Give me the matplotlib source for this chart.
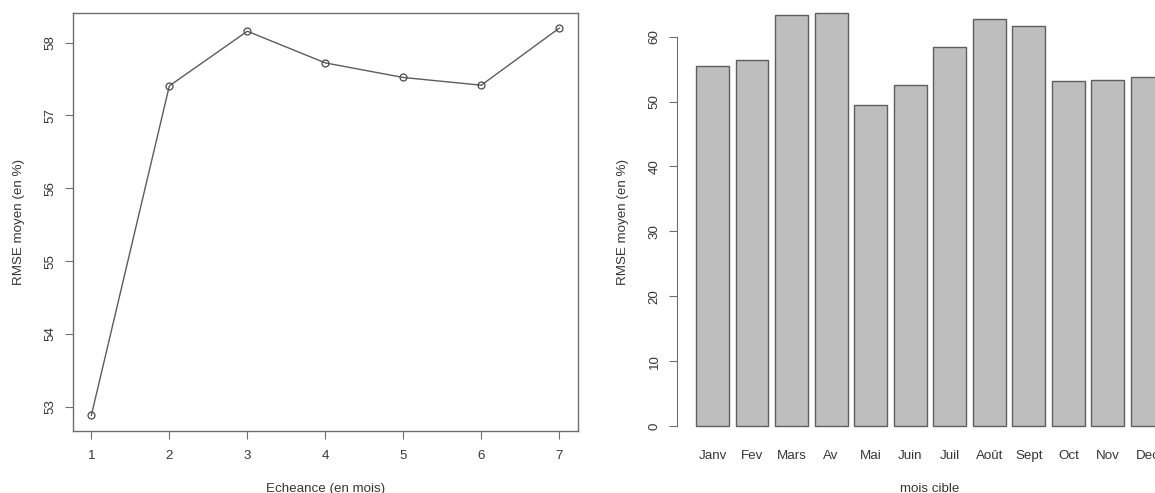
import matplotlib.pyplot as plt
import numpy as np

plt.rcParams['font.family'] = ['Liberation Sans', 'DejaVu Sans']
plt.rcParams['font.size'] = 9.6

# RMSE moyen par échéance
echeances = [1, 2, 3, 4, 5, 6, 7]
rmse_echeance = [52.885, 57.405, 58.155, 57.72, 57.52, 57.414, 58.197]

# RMSE moyen par mois cible
mois = ["Janv", "Fev", "Mars", "Av", "Mai", "Juin", "Juil", "Août", "Sept", "Oct", "Nov", "Dec"]
rmse_mois = [55.52, 56.35, 63.28, 63.69, 49.41, 52.54, 58.45, 62.66, 61.68, 53.16, 53.31, 53.78]

txt_col = "#363636"
ax_col = "#6e6e6e"

fig = plt.figure(figsize=(11.55, 4.93), dpi=100)

# --- courbe RMSE / échéance ---
ax1 = fig.add_axes([0.0629, 0.1264, 0.4375, 0.8479])
ax1.plot(echeances, rmse_echeance, color="#5c5c5c", linewidth=1.0,
         marker="o", markersize=5, markerfacecolor="none",
         markeredgecolor="#4a4a4a", markeredgewidth=0.9)

def r_lim(vals):
    lo, hi = min(vals), max(vals)
    pad = 0.04 * (hi - lo)
    return lo - pad, hi + pad

ax1.set_xlim(*r_lim(echeances))
ax1.set_ylim(*r_lim(rmse_echeance))
ax1.set_xticks(echeances)
ax1.set_yticks([53, 54, 55, 56, 57, 58])
for sp in ax1.spines.values():
    sp.set_color(ax_col)
    sp.set_linewidth(1.0)
ax1.tick_params(axis="x", length=5.5, pad=8.5, colors=ax_col, labelcolor=txt_col)
ax1.tick_params(axis="y", length=5.5, pad=6.5, colors=ax_col, labelcolor=txt_col,
                labelrotation=90)
for lab in ax1.get_yticklabels():
    lab.set_va("center")
ax1.set_xlabel("Echeance (en mois)", color=txt_col, labelpad=15)
ax1.set_ylabel("RMSE moyen (en %)", color=txt_col, labelpad=14)

# --- barplot RMSE / mois cible ---
ax2 = fig.add_axes([0.5864, 0.1264, 0.4375, 0.8479])
width = 1.0
space = 0.2
pos = np.arange(len(mois)) * (width + space) + space + width / 2
ax2.bar(pos, rmse_mois, width=width, color="#bebebe", edgecolor="#5e5e5e",
        linewidth=1.0, clip_on=False)
x_lo, x_hi = space, pos[-1] + width / 2
pad = 0.04 * (x_hi - x_lo)
ax2.set_xlim(x_lo - pad, x_hi + pad)
ax2.set_ylim(-0.72, max(rmse_mois))
ax2.set_xticks(pos)
ax2.set_xticklabels(mois)
ax2.set_yticks([0, 10, 20, 30, 40, 50, 60])
for side in ["top", "right", "bottom"]:
    ax2.spines[side].set_visible(False)
ax2.spines["left"].set_bounds(0, 60)
ax2.spines["left"].set_color(ax_col)
ax2.tick_params(axis="x", length=0, pad=14, labelcolor=txt_col)
ax2.tick_params(axis="y", length=5.5, pad=6.5, colors=ax_col, labelcolor=txt_col,
                labelrotation=90)
for lab in ax2.get_yticklabels():
    lab.set_va("center")
ax2.set_xlabel("mois cible", color=txt_col, labelpad=15)
ax2.set_ylabel("RMSE moyen (en %)", color=txt_col, labelpad=14)

fig.savefig("out.png", dpi=100)
plt.close(fig)
